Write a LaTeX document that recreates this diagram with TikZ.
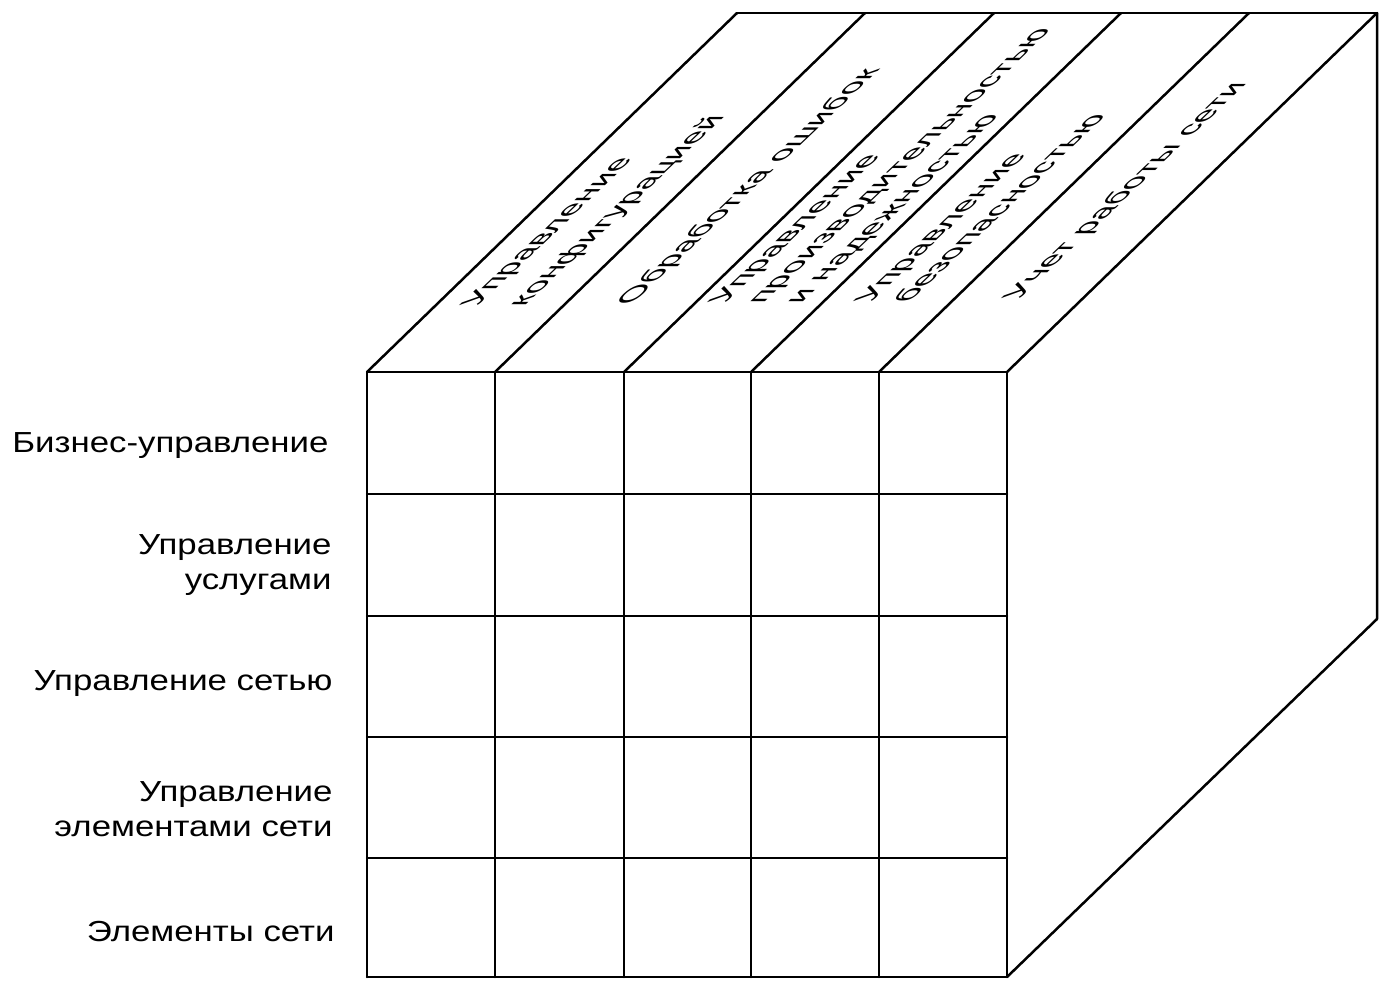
\documentclass[tikz,border=0pt]{standalone}
\usepackage{fontspec}
\setmainfont{Liberation Sans}
\begin{document}
\begin{tikzpicture}[x=0.5pt,y=-0.5pt,
  edge/.style={line width=1.25pt,line join=round,line cap=round},
  side/.style={font=\fontsize{14.5}{17.5}\selectfont,align=right,anchor=base east,inner sep=0pt,xscale=1.2},
  toplbl/.style={font=\fontsize{14.5}{20}\selectfont,align=left,anchor=base west,inner sep=0pt,
    cm={0.972,0.922,-0.95,0,(0,0)}}]
\useasboundingbox (0,0) rectangle (1382,981);
% corners of the block
\coordinate (ftl) at (367,372);
\coordinate (ftr) at (1007,372);
\coordinate (fbl) at (367,977);
\coordinate (fbr) at (1007,977);
\coordinate (btl) at (737,13);
\coordinate (btr) at (1377,13);
\coordinate (bbr) at (1377,619);
% front grid
\foreach \x in {367,495,624,751,879,1007}
  \draw[edge] (\x,372) -- (\x,977);
\foreach \y in {372,494,616,737,858,977}
  \draw[edge] (367,\y) -- (1007,\y);
% top face strips
\foreach \x in {367,495,624,751,879,1007}
  \draw[edge] (\x,372) -- ++(370,-359);
\draw[edge] (btl) -- (btr);
% right face
\draw[edge] (btr) -- (bbr) -- (fbr);
% row labels (anchor = baseline of the last line)
\node[side] (r1) at (329,452) {Бизнес-управление};
\node[side] (r2) at (332,589) {Управление\\услугами};
\node[side] (r3) at (333,690) {Управление сетью};
\node[side] (r4) at (333,836) {Управление\\элементами сети};
\node[side] (r5) at (335,941) {Элементы сети};
% column labels on the top face (anchor = baseline start of the last line)
\node[toplbl,font=\fontsize{14.5}{24.5}\selectfont] (c1) at (524,307) {Управление\\конфигурацией};
\node[toplbl] (c2) at (632,305) {Обработка ошибок};
\node[toplbl] (c3) at (801,304) {Управление\\производительностью\\и надежностью};
\node[toplbl] (c4) at (909,303) {Управление\\безопасностью};
\node[toplbl] (c5) at (1019,300) {Учет работы сети};
\end{tikzpicture}
\end{document}
